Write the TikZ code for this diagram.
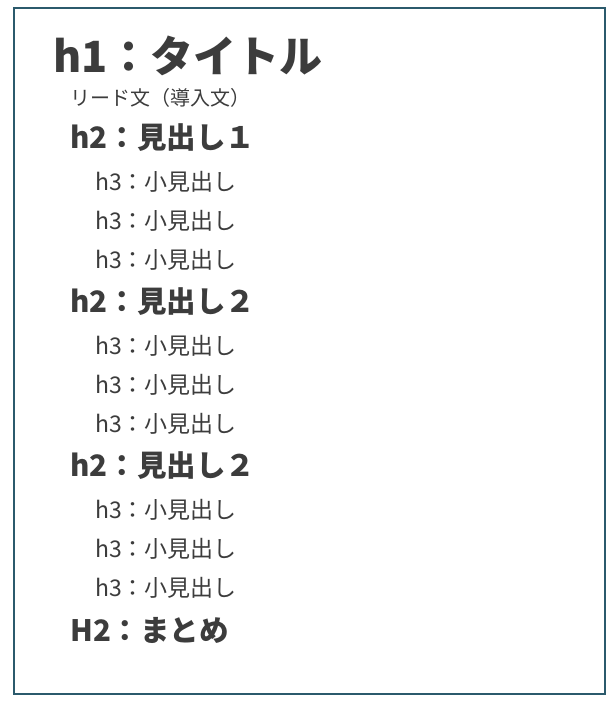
\documentclass[tikz,border=0pt]{standalone}
\usepackage{fontspec}
\setmainfont{Noto Sans CJK JP}
\newfontfamily\jp{Noto Sans CJK JP}
\definecolor{frameblue}{HTML}{2B5A6C}
\definecolor{txt}{HTML}{3C3C3C}
\tikzset{
  base/.style={anchor=west, inner sep=0pt, text=txt, font=\jp},
  hone/.style={base, font=\jp\bfseries\fontsize{43}{43}\selectfont},
  lead/.style={base, font=\jp\fontsize{20}{20}\selectfont},
  htwo/.style={base, font=\jp\bfseries\fontsize{29.5}{29.5}\selectfont},
  hthree/.style={base, font=\jp\fontsize{23}{23}\selectfont},
}
\begin{document}
\begin{tikzpicture}[x=1pt,y=-1pt]
\useasboundingbox (0,0) rectangle (613,704);
\draw[frameblue, line width=2pt] (14,8) rectangle (605,694);
\node[hone] (t) at (53,56) {h1：タイトル};
\node[lead] (l) at (70,98) {リード文（導入文）};
\node[htwo] (a) at (70,138) {h2：見出し１};
\node[hthree] (a1) at (95,182) {h3：小見出し};
\node[hthree] (a2) at (95,221) {h3：小見出し};
\node[hthree] (a3) at (95,260) {h3：小見出し};
\node[htwo] (b) at (70,302) {h2：見出し２};
\node[hthree] (b1) at (95,346) {h3：小見出し};
\node[hthree] (b2) at (95,385) {h3：小見出し};
\node[hthree] (b3) at (95,424) {h3：小見出し};
\node[htwo] (c) at (70,466) {h2：見出し２};
\node[hthree] (c1) at (95,510) {h3：小見出し};
\node[hthree] (c2) at (95,549) {h3：小見出し};
\node[hthree] (c3) at (95,588) {h3：小見出し};
\node[htwo] (d) at (70,630) {H2：まとめ};
\end{tikzpicture}
\end{document}
